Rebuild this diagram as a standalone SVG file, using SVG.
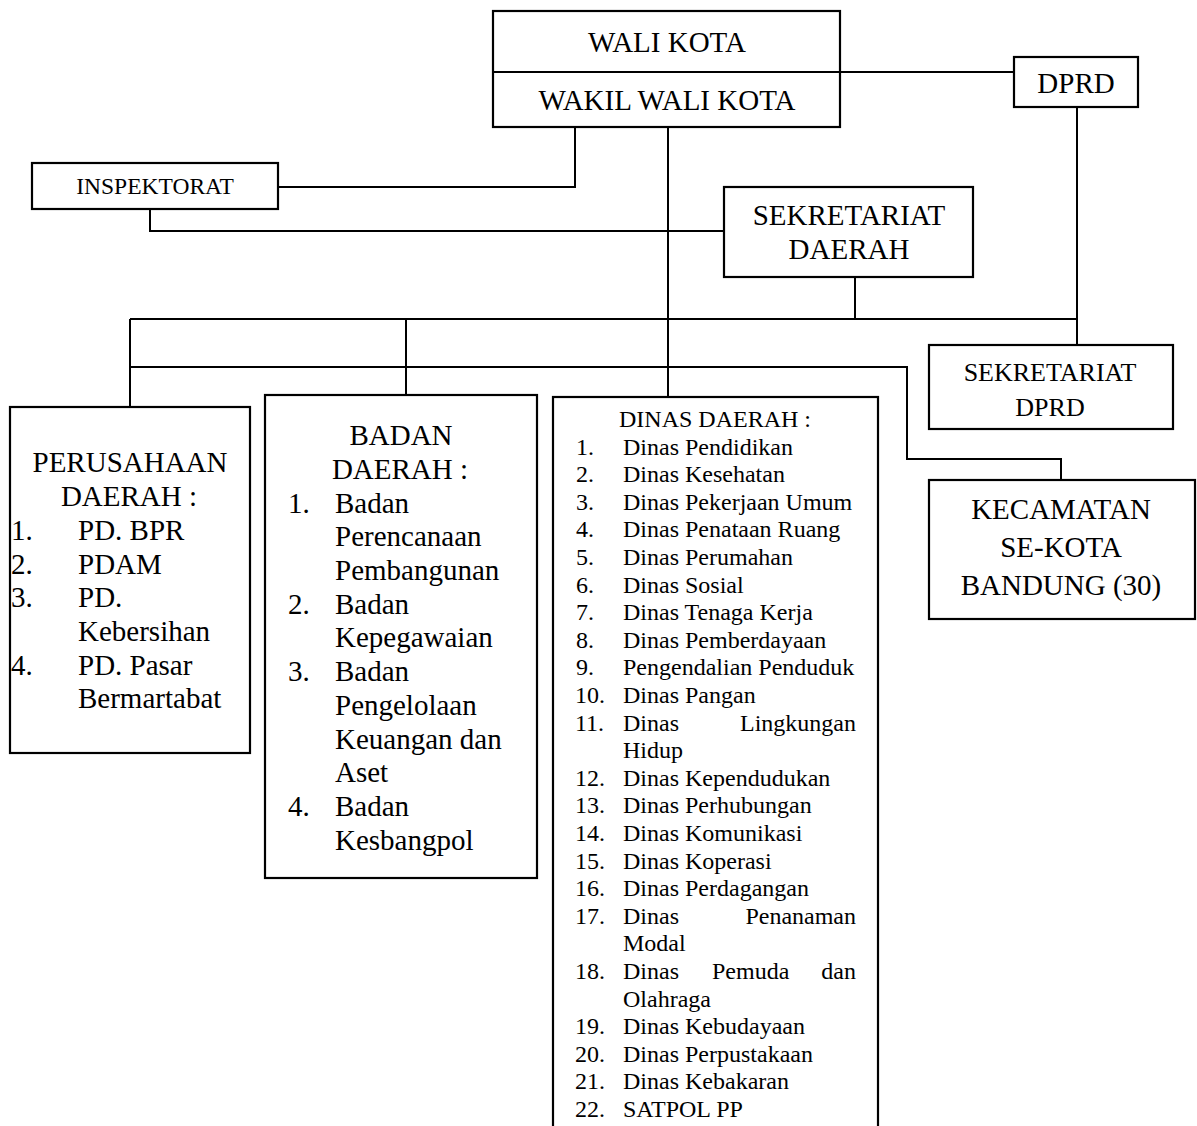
<svg xmlns="http://www.w3.org/2000/svg" width="1197" height="1126" viewBox="0 0 1197 1126">
<style>
.box{fill:#fff;stroke:#000;stroke-width:2.2}
.ln{fill:none;stroke:#000;stroke-width:2}
text{font-family:"Liberation Serif","Times New Roman",serif;fill:#000}
.big{font-size:29px}
.mid{font-size:26px}
.sm{font-size:23.5px}
.ls{font-size:24px}
.c{text-anchor:middle}
.e{text-anchor:end}
</style>
<rect width="1197" height="1126" fill="#fff"/>
<g id="connectors">
<polyline class="ln" points="840,72 1014,72"/>
<polyline class="ln" points="1077,107 1077,345"/>
<polyline class="ln" points="130,319 1077,319"/>
<polyline class="ln" points="575,127 575,187 278,187"/>
<polyline class="ln" points="150,209 150,231 724,231"/>
<polyline class="ln" points="668,127 668,397"/>
<polyline class="ln" points="855,277 855,319"/>
<polyline class="ln" points="130,367 907,367 907,459 1061,459 1061,480"/>
<polyline class="ln" points="130,319 130,407"/>
<polyline class="ln" points="406,319 406,395"/>
</g>
<g id="walikota">
<rect class="box" x="493" y="11" width="347" height="116"/>
<line class="ln" x1="493" y1="72" x2="840" y2="72"/>
<text class="big c" x="667" y="52">WALI KOTA</text>
<text class="big c" x="667" y="110">WAKIL WALI KOTA</text>
</g>
<g id="dprd">
<rect class="box" x="1014" y="57" width="124" height="50"/>
<text class="big c" x="1076" y="93">DPRD</text>
</g>
<g id="inspektorat">
<rect class="box" x="32" y="163" width="246" height="46"/>
<text class="sm c" x="155" y="194">INSPEKTORAT</text>
</g>
<g id="sekda">
<rect class="box" x="724" y="187" width="249" height="90"/>
<text class="big c" x="849" y="225">SEKRETARIAT</text>
<text class="big c" x="849" y="259">DAERAH</text>
</g>
<g id="sekdprd">
<rect class="box" x="929" y="345" width="244" height="84"/>
<text class="mid c" x="1050" y="381">SEKRETARIAT</text>
<text class="mid c" x="1050" y="416">DPRD</text>
</g>
<g id="kecamatan">
<rect class="box" x="929" y="480" width="266" height="139"/>
<text class="big c" x="1061" y="519">KECAMATAN</text>
<text class="big c" x="1061" y="557">SE-KOTA</text>
<text class="big c" x="1061" y="595">BANDUNG (30)</text>
</g>
<g id="perusahaan">
<rect class="box" x="10" y="407" width="240" height="346"/>
<text class="big c" x="130" y="472">PERUSAHAAN</text>
<text class="big c" x="129" y="506">DAERAH :</text>
<text class="big" x="11" y="540">1.</text><text class="big" x="78" y="540">PD. BPR</text>
<text class="big" x="11" y="574">2.</text><text class="big" x="78" y="574">PDAM</text>
<text class="big" x="11" y="607">3.</text><text class="big" x="78" y="607">PD.</text>
<text class="big" x="78" y="641">Kebersihan</text>
<text class="big" x="11" y="675">4.</text><text class="big" x="78" y="675">PD. Pasar</text>
<text class="big" x="78" y="708">Bermartabat</text>
</g>
<g id="badan">
<rect class="box" x="265" y="395" width="272" height="483"/>
<text class="big c" x="401" y="445">BADAN</text>
<text class="big c" x="400" y="479">DAERAH :</text>
<text class="big" x="288" y="513">1.</text><text class="big" x="335" y="513">Badan</text>
<text class="big" x="335" y="546">Perencanaan</text>
<text class="big" x="335" y="580">Pembangunan</text>
<text class="big" x="288" y="614">2.</text><text class="big" x="335" y="614">Badan</text>
<text class="big" x="335" y="647">Kepegawaian</text>
<text class="big" x="288" y="681">3.</text><text class="big" x="335" y="681">Badan</text>
<text class="big" x="335" y="715">Pengelolaan</text>
<text class="big" x="335" y="749">Keuangan dan</text>
<text class="big" x="335" y="782">Aset</text>
<text class="big" x="288" y="816">4.</text><text class="big" x="335" y="816">Badan</text>
<text class="big" x="335" y="850">Kesbangpol</text>
</g>
<g id="dinas">
<rect class="box" x="553" y="397" width="325" height="760"/>
<text class="ls c" x="715" y="427">DINAS DAERAH :</text>
<text class="ls" x="576" y="454.5">1.</text><text class="ls" x="623" y="454.5">Dinas Pendidikan</text>
<text class="ls" x="576" y="482.1">2.</text><text class="ls" x="623" y="482.1">Dinas Kesehatan</text>
<text class="ls" x="576" y="509.7">3.</text><text class="ls" x="623" y="509.7">Dinas Pekerjaan Umum</text>
<text class="ls" x="576" y="537.3">4.</text><text class="ls" x="623" y="537.3">Dinas Penataan Ruang</text>
<text class="ls" x="576" y="564.9">5.</text><text class="ls" x="623" y="564.9">Dinas Perumahan</text>
<text class="ls" x="576" y="592.5">6.</text><text class="ls" x="623" y="592.5">Dinas Sosial</text>
<text class="ls" x="576" y="620.1">7.</text><text class="ls" x="623" y="620.1">Dinas Tenaga Kerja</text>
<text class="ls" x="576" y="647.7">8.</text><text class="ls" x="623" y="647.7">Dinas Pemberdayaan</text>
<text class="ls" x="576" y="675.3">9.</text><text class="ls" x="623" y="675.3">Pengendalian Penduduk</text>
<text class="ls" x="575" y="702.9">10.</text><text class="ls" x="623" y="702.9">Dinas Pangan</text>
<text class="ls" x="575" y="730.5">11.</text><text class="ls" x="623" y="730.5">Dinas</text><text class="ls e" x="856" y="730.5">Lingkungan</text>
<text class="ls" x="623" y="758.1">Hidup</text>
<text class="ls" x="575" y="785.7">12.</text><text class="ls" x="623" y="785.7">Dinas Kependudukan</text>
<text class="ls" x="575" y="813.3">13.</text><text class="ls" x="623" y="813.3">Dinas Perhubungan</text>
<text class="ls" x="575" y="840.9">14.</text><text class="ls" x="623" y="840.9">Dinas Komunikasi</text>
<text class="ls" x="575" y="868.5">15.</text><text class="ls" x="623" y="868.5">Dinas Koperasi</text>
<text class="ls" x="575" y="896.1">16.</text><text class="ls" x="623" y="896.1">Dinas Perdagangan</text>
<text class="ls" x="575" y="923.7">17.</text><text class="ls" x="623" y="923.7">Dinas</text><text class="ls e" x="856" y="923.7">Penanaman</text>
<text class="ls" x="623" y="951.3">Modal</text>
<text class="ls" x="575" y="978.9">18.</text><text class="ls" x="623" y="978.9">Dinas</text><text class="ls" x="712" y="978.9">Pemuda</text><text class="ls e" x="856" y="978.9">dan</text>
<text class="ls" x="623" y="1006.5">Olahraga</text>
<text class="ls" x="575" y="1034.1">19.</text><text class="ls" x="623" y="1034.1">Dinas Kebudayaan</text>
<text class="ls" x="575" y="1061.7">20.</text><text class="ls" x="623" y="1061.7">Dinas Perpustakaan</text>
<text class="ls" x="575" y="1089.3">21.</text><text class="ls" x="623" y="1089.3">Dinas Kebakaran</text>
<text class="ls" x="575" y="1116.9">22.</text><text class="ls" x="623" y="1116.9">SATPOL PP</text>
</g>
</svg>
